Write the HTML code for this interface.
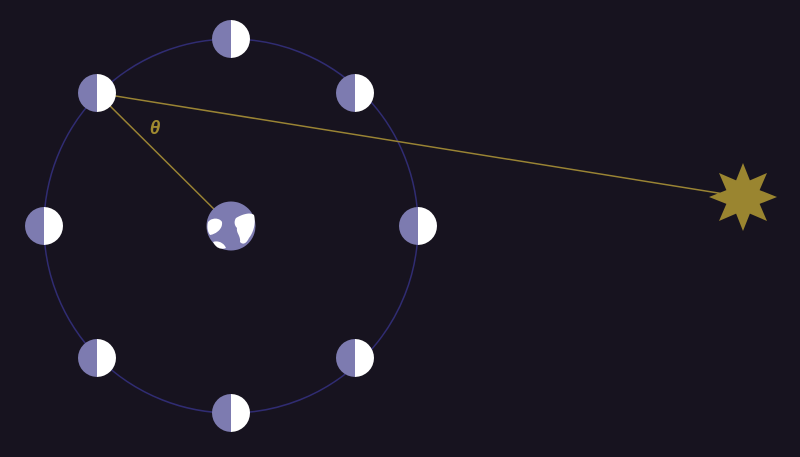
<!DOCTYPE html>
<html><head><meta charset="utf-8"><style>
html,body{margin:0;padding:0;background:#17131f;}
svg{display:block}
</style></head><body>
<svg width="800" height="457" viewBox="0 0 800 457">
<rect width="800" height="457" fill="#17131f"/>
<circle cx="231" cy="226" r="187" fill="none" stroke="#302c72" stroke-width="1.5"/>
<line x1="97" y1="93" x2="743" y2="197" stroke="#9a8434" stroke-width="1.5"/>
<line x1="97" y1="93" x2="231" y2="226" stroke="#9a8434" stroke-width="1.5"/>
<text x="155" y="134" fill="#a08a30" font-family="Liberation Sans, sans-serif" font-style="italic" font-weight="bold" font-size="19" text-anchor="middle">θ</text>
<g id="moons"></g>
<g>
<circle cx="231" cy="226" r="24.5" fill="#7d7bb0"/>
<path d="M208,222 C212,217 220,218 222,222 C223,229 216,234 210,235 C207,231 207,226 208,222Z" fill="#fff"/>
<path d="M236,218 C243,214 250,212 254,215 C256,222 254,232 249,238 C246,244 243,245 240,242 C241,236 236,233 237,228 C234,225 234,221 236,218Z" fill="#fff"/>
<path d="M213,242 C218,240 224,243 226,248 C221,250 216,248 213,242Z" fill="#fff"/>
</g>
<polygon id="sun" fill="#9a8530"/>
</svg>
<script>
const moonX=[418,355,231,97,44,97,231,355];
const moonY=[226,93,39,93,226,358,413,358];
const g=document.getElementById('moons');
const r=19;
moonX.forEach((x,i)=>{
 const y=moonY[i];
 const m=document.createElementNS('http://www.w3.org/2000/svg','g');
 
 
 m.innerHTML=`<path d="M${x},${y-r} A${r},${r} 0 0 0 ${x},${y+r}Z" fill="#7d7bb0"/><path d="M${x},${y-r} A${r},${r} 0 0 1 ${x},${y+r}Z" fill="#fff"/>`;
 g.appendChild(m);
});
const pts=[];for(let i=0;i<16;i++){const rr=i%2?18:34,t=(i*22.5-90)*Math.PI/180;pts.push((743+rr*Math.cos(t)).toFixed(1)+','+(197+rr*Math.sin(t)).toFixed(1));}
document.getElementById('sun').setAttribute('points',pts.join(' '));
</script>
</body></html>
